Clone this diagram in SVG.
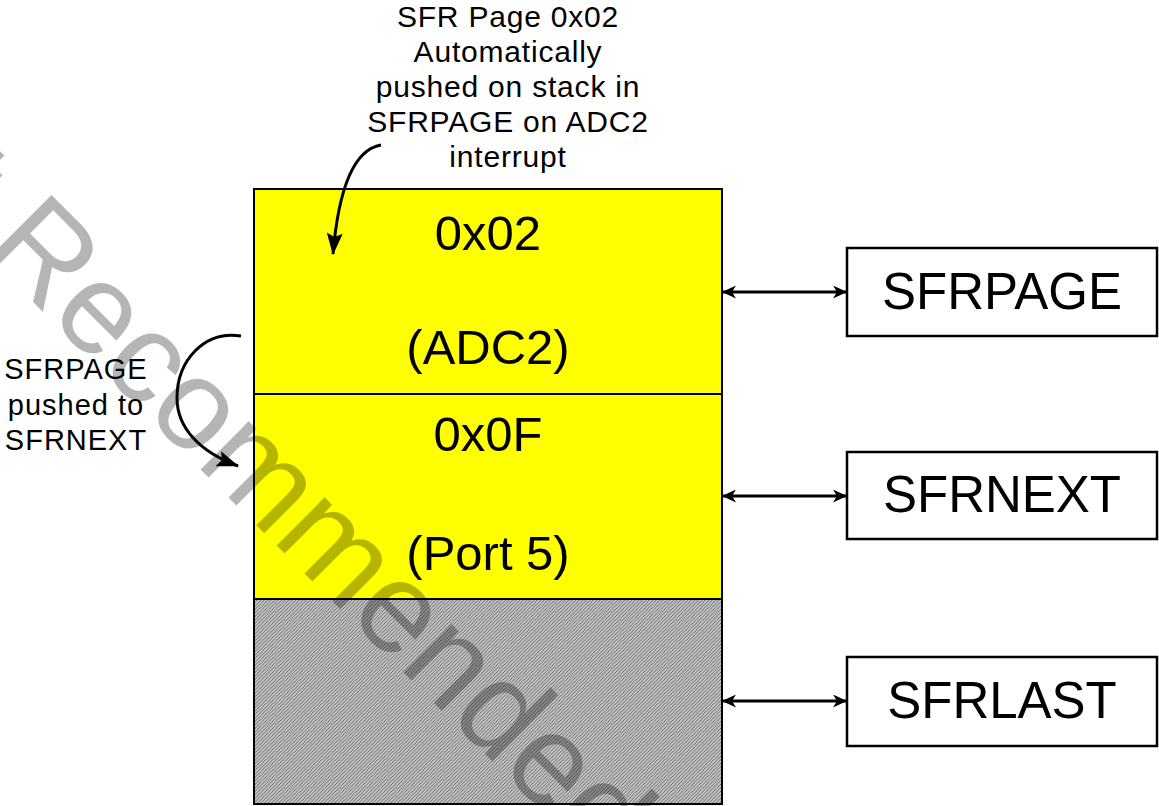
<svg xmlns="http://www.w3.org/2000/svg" width="1159" height="806" viewBox="0 0 1159 806">
<style>
text{font-family:"Liberation Sans",Arial,sans-serif;fill:#000}
.big{font-size:49px;text-anchor:middle}
.box{font-size:51px;text-anchor:middle}
.note{font-size:30px;text-anchor:middle;letter-spacing:0.8px}
.side{font-size:29px;text-anchor:middle;letter-spacing:1px}
.frame{fill:#fff;stroke:#000;stroke-width:2.5}
.cell{stroke:#000;stroke-width:2}
.link{stroke:#000;stroke-width:2.8;fill:none;marker-start:url(#ah);marker-end:url(#ah)}
.curve{stroke:#000;stroke-width:3;fill:none;marker-end:url(#ahc)}
.wm{font-size:129px;fill:#000;fill-opacity:0.29}
</style>
<defs>
<pattern id="hatch" patternUnits="userSpaceOnUse" width="3.5" height="3.5">
<rect width="3.5" height="3.5" fill="#c6c6c6"/>
<path d="M-1,1 L1,-1 M0,3.5 L3.5,0 M2.5,4.5 L4.5,2.5" stroke="#3a3a3a" stroke-width="0.7"/>
</pattern>
<marker id="ah" viewBox="0 0 14 13" refX="13" refY="6.5" markerWidth="14" markerHeight="13" orient="auto-start-reverse" markerUnits="userSpaceOnUse">
<path d="M0,0 L14,6.5 L0,13 L4,6.5 z" fill="#000"/>
</marker>
<marker id="ahc" viewBox="0 0 22 16" refX="21" refY="8" markerWidth="22" markerHeight="16" orient="auto" markerUnits="userSpaceOnUse">
<path d="M0,0 L22,8 L0,16 L4,8 z" fill="#000"/>
</marker>
</defs>
<rect width="1159" height="806" fill="#fff"/>

<g id="stack">
<rect id="cell-adc2" class="cell" x="254" y="189" width="468" height="205" fill="#ffff00"/>
<rect id="cell-port5" class="cell" x="254" y="394" width="468" height="205" fill="#ffff00"/>
<rect id="cell-empty" class="cell" x="254" y="599" width="468" height="205" fill="url(#hatch)"/>
</g>

<text class="wm" transform="translate(-186,83) rotate(45)">Not Recommended</text>

<g id="stack-labels">
<text class="big" x="488" y="250">0x02</text>
<text class="big" x="488" y="364">(ADC2)</text>
<text class="big" x="488" y="451">0x0F</text>
<text class="big" x="488" y="570">(Port 5)</text>
</g>

<g id="node-sfrpage">
<rect class="frame" x="847" y="248" width="310" height="88"/>
<text class="box" x="1002" y="309">SFRPAGE</text>
</g>
<g id="node-sfrnext">
<rect class="frame" x="847" y="452" width="310" height="87"/>
<text class="box" x="1002" y="512">SFRNEXT</text>
</g>
<g id="node-sfrlast">
<rect class="frame" x="847" y="657" width="310" height="89"/>
<text class="box" x="1002" y="718">SFRLAST</text>
</g>

<g id="note-top">
<text class="note" x="508" y="27">SFR Page 0x02</text>
<text class="note" x="508" y="62">Automatically</text>
<text class="note" x="508" y="97">pushed on stack in</text>
<text class="note" x="508" y="132">SFRPAGE on ADC2</text>
<text class="note" x="508" y="167">interrupt</text>
</g>
<g id="note-left">
<text class="side" x="76" y="379">SFRPAGE</text>
<text class="side" x="76" y="415">pushed to</text>
<text class="side" x="76" y="450">SFRNEXT</text>
</g>

<g id="connectors">
<line class="link" x1="723" y1="292" x2="846" y2="292"/>
<line class="link" x1="723" y1="496" x2="846" y2="496"/>
<line class="link" x1="723" y1="701" x2="846" y2="701"/>
<path class="curve" d="M381,145 C352,150 338,195 333,254"/>
<path class="curve" d="M241,336 C205,330 177,360 177,398 C177,428 200,452 238,466"/>
</g>
</svg>
